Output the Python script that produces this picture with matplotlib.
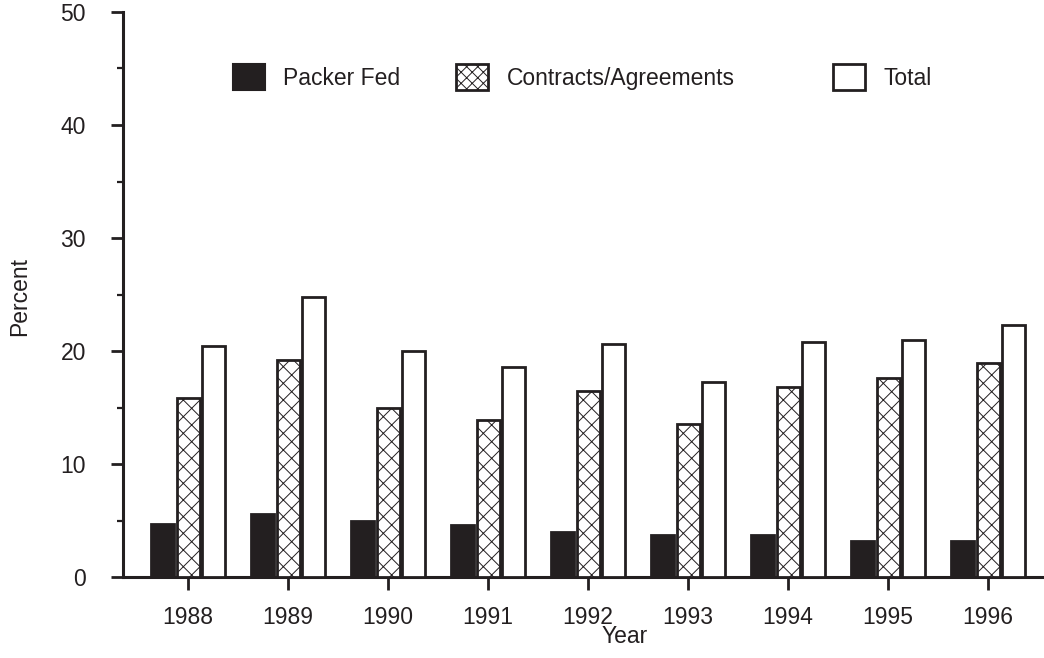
import numpy as np
import matplotlib
matplotlib.use('Agg')
import matplotlib.pyplot as plt
from matplotlib.patches import Patch

plt.rcParams['font.family'] = ['Liberation Sans', 'DejaVu Sans']
plt.rcParams['hatch.linewidth'] = 0.7
plt.rcParams['hatch.color'] = '#231f20'

years = [1988, 1989, 1990, 1991, 1992, 1993, 1994, 1995, 1996]
packer_fed = [4.7, 5.6, 5.0, 4.6, 4.0, 3.7, 3.7, 3.2, 3.2]
contracts = [15.8, 19.2, 15.0, 13.9, 16.5, 13.5, 16.8, 17.6, 18.9]
total = [20.4, 24.8, 20.0, 18.6, 20.6, 17.3, 20.8, 21.0, 22.3]

ink = '#231f20'
fs = 16.5

fig = plt.figure(figsize=(10.44, 6.58), dpi=100)
ax = fig.add_axes([123 / 1044, 1 - 577 / 658, (1044 - 123) / 1044, (577 - 12) / 658])

x = np.array(years, dtype=float)
w = 0.23
off = 0.255

# three bars per year
ax.bar(x - off, packer_fed, w, color=ink, edgecolor=ink, linewidth=2, zorder=3)
ax.bar(x, contracts, w, color='white', edgecolor=ink, hatch='xx', linewidth=2, zorder=3)
ax.bar(x + off, total, w, color='white', edgecolor=ink, linewidth=2, zorder=3)

ax.set_xlim(1987.35, 1996.56)
ax.set_ylim(0, 50)
ax.set_xticks(years)
ax.set_xticklabels([str(y) for y in years])
ax.set_yticks(np.arange(0, 51, 10))
ax.set_yticks(np.arange(5, 50, 10), minor=True)

for s in ['top', 'right']:
    ax.spines[s].set_visible(False)
for s in ['left', 'bottom']:
    ax.spines[s].set_linewidth(2.2)
    ax.spines[s].set_color(ink)

ax.tick_params(axis='x', direction='out', length=9, width=2, pad=12,
               labelsize=fs, colors=ink)
ax.tick_params(axis='y', which='major', direction='out', length=8.6, width=2,
               pad=18, labelsize=fs, colors=ink)
ax.tick_params(axis='y', which='minor', direction='out', length=4.5, width=1.6,
               colors=ink)

ax.set_xlabel('Year', fontsize=fs, color=ink)
ax.xaxis.set_label_coords(0.545, -0.085)
ax.set_ylabel('Percent', fontsize=fs, color=ink)
ax.yaxis.set_label_coords(-0.1, 0.496)

# legend entries placed one by one, like the original
items = [
    (233, Patch(facecolor=ink, edgecolor=ink, linewidth=1.5), 'Packer Fed'),
    (456, Patch(facecolor='white', edgecolor=ink, hatch='xxx', linewidth=2), 'Contracts/Agreements'),
    (833, Patch(facecolor='white', edgecolor=ink, linewidth=2), 'Total'),
]
for xpix, h, lab in items:
    leg = fig.legend([h], [lab], loc='center left',
                     bbox_to_anchor=(xpix / 1044, 1 - 77 / 658),
                     bbox_transform=fig.transFigure, frameon=False,
                     fontsize=fs, handlelength=1.4, handleheight=1.35,
                     handletextpad=0.8, borderpad=0, borderaxespad=0)
    for t in leg.get_texts():
        t.set_color(ink)

fig.savefig('out.png', dpi=100)
